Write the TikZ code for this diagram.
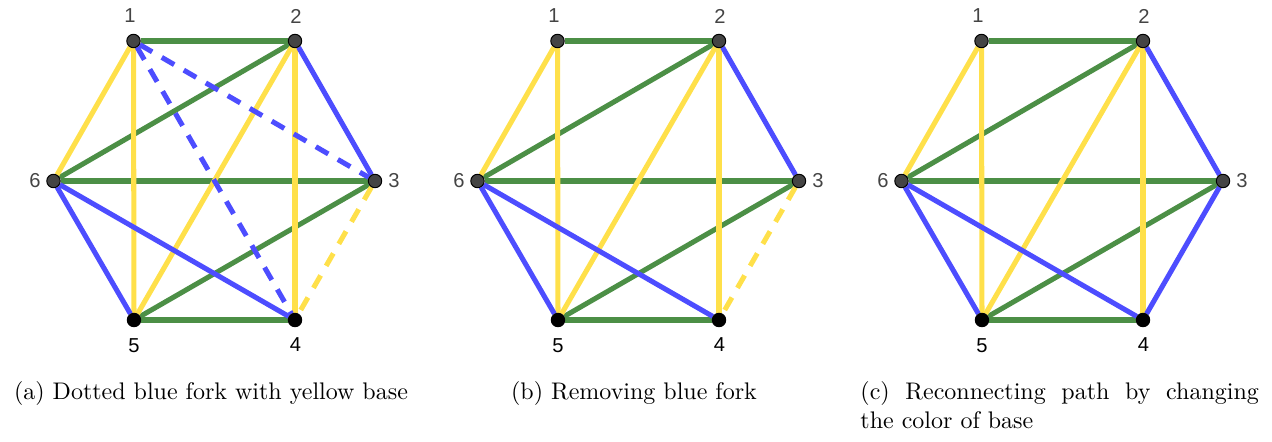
\documentclass[tikz,border=0pt]{standalone}
\usepackage{fontspec}
\newfontfamily\labfont{Liberation Sans}
\usetikzlibrary{backgrounds}
\definecolor{eg}{HTML}{4C8F46}
\definecolor{ey}{HTML}{FFE04A}
\definecolor{eb}{HTML}{4D4DFF}
\definecolor{vg}{HTML}{444444}
\tikzset{
  vgray/.style={circle,fill=vg,draw=black,line width=0.42pt,minimum size=5.6pt,inner sep=0pt},
  vblack/.style={circle,fill=black,draw=black,line width=0.42pt,minimum size=5.6pt,inner sep=0pt},
  vlab/.style={font=\labfont\fontsize{8.4}{10}\selectfont,inner sep=0pt},
  eG/.style={draw=eg,line width=2.1pt},
  eY/.style={draw=ey,line width=2.1pt},
  eB/.style={draw=eb,line width=2.1pt},
  edash/.style={dash pattern=on 6pt off 4.6pt},
  capt/.style={font=\fontsize{10}{12}\selectfont,inner sep=0pt,anchor=base},
}
\newcommand\hexgraph[2]{%
  \begin{scope}[shift={(#2,0)}]
    \node[vgray]  (#1v1) at (133.5,41) {};
    \node[vgray]  (#1v2) at (295,41) {};
    \node[vgray]  (#1v3) at (375,181) {};
    \node[vblack] (#1v4) at (295,320) {};
    \node[vblack] (#1v5) at (134,320) {};
    \node[vgray]  (#1v6) at (53.5,181) {};
    \node[vlab,text=vg] (#1l1) at (130,16) {1};
    \node[vlab,text=vg] (#1l2) at (296,16) {2};
    \node[vlab,text=vg] (#1l3) at (394,181) {3};
    \node[vlab,text=black] (#1l4) at (295.5,345) {4};
    \node[vlab,text=black] (#1l5) at (134,345.5) {5};
    \node[vlab,text=vg] (#1l6) at (35,181) {6};
  \end{scope}
  \begin{pgfonlayer}{background}
    \draw[eG] (#1v1) -- (#1v2);
    \draw[eG] (#1v2) -- (#1v6);
    \draw[eG] (#1v6) -- (#1v3);
    \draw[eG] (#1v5) -- (#1v4);
    \draw[eG] (#1v5) -- (#1v3);
    \draw[eY] (#1v1) -- (#1v6);
    \draw[eY] (#1v1) -- (#1v5);
    \draw[eY] (#1v2) -- (#1v5);
    \draw[eY] (#1v2) -- (#1v4);
    \draw[eB] (#1v2) -- (#1v3);
    \draw[eB] (#1v6) -- (#1v5);
    \draw[eB] (#1v6) -- (#1v4);
  \end{pgfonlayer}%
}
\begin{document}
\begin{tikzpicture}[x=0.41667pt,y=-0.41667pt]
  \useasboundingbox (0,0) rectangle (1272,442);
  \hexgraph{a}{0}
  \hexgraph{b}{424}
  \hexgraph{c}{848}
  \begin{pgfonlayer}{background}
    \draw[eB,edash] (av1) -- (av3);
    \draw[eB,edash] (av1) -- (av4);
    \draw[eY,edash] (av3) -- (av4);
    \draw[eY,edash] (bv3) -- (bv4);
    \draw[eB] (cv3) -- (cv4);
  \end{pgfonlayer}
  \node[capt] (capa) at (211,400) {(a) Dotted blue fork with yellow base};
  \node[capt] (capb) at (634,400) {(b) Removing blue fork};
  \node[capt,anchor=base west] (capc) at (860,400) {\parbox[t]{166pt}{(c) Reconnecting path by changing\linebreak the color of base}};
\end{tikzpicture}
\end{document}
